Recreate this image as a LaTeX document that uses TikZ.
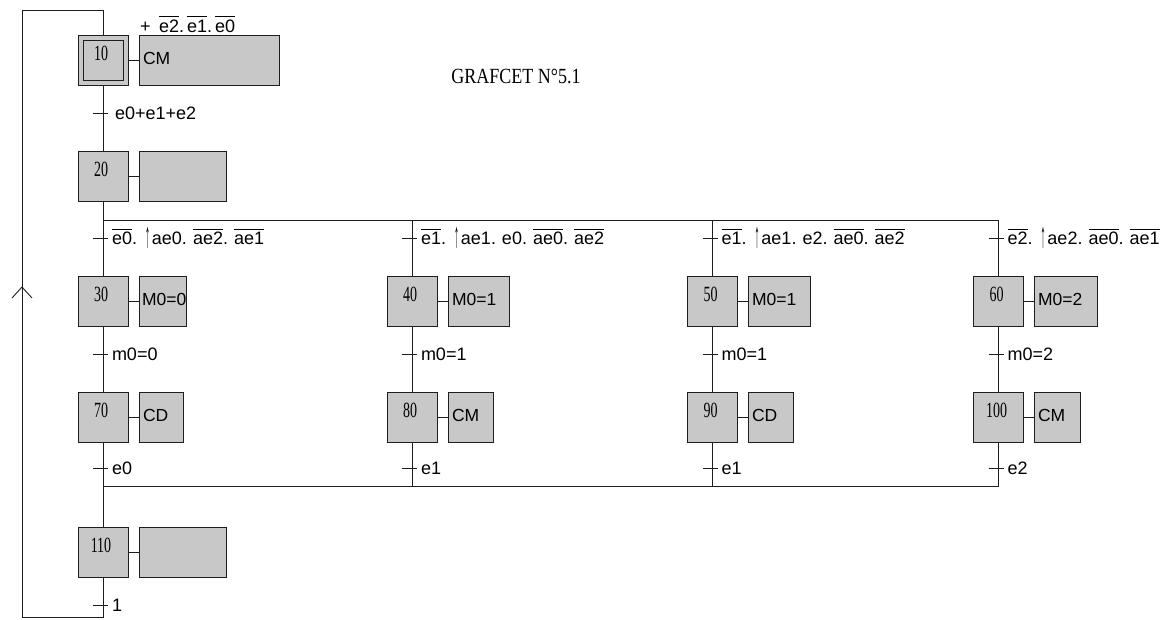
\documentclass[tikz,border=0pt]{standalone}
\usepackage{fontspec}
\newfontfamily\arialf{Liberation Sans}
\newfontfamily\timesf{Liberation Serif}
\definecolor{stepfill}{RGB}{200,200,200}
\definecolor{ln}{RGB}{30,30,30}
\newcommand\ov[1]{\vbox{\hrule height 0.9pt\kern 2.5pt\hbox{#1}}}
\newcommand\upe{\hspace{2pt}\raisebox{-3pt}{\scalebox{0.55}[2.0]{↑}}\hspace{2pt}}
\newcommand\tallnum[1]{\scalebox{1}[1.55]{#1}}
\newcommand\dt{.\hspace{6pt}}
\begin{document}
\begin{tikzpicture}[x=1pt,y=-1pt,
  every node/.style={inner sep=0pt,outer sep=0pt},
  wire/.style={draw=ln,line width=0.9pt},
  stepbox/.style={draw=ln,fill=stepfill,line width=0.9pt,minimum width=50pt,minimum height=50pt},
  innerbox/.style={draw=ln,line width=0.9pt,minimum width=40pt,minimum height=40pt},
  actbox/.style={draw=ln,fill=stepfill,line width=0.9pt,minimum height=50pt,anchor=west},
  num/.style={font=\timesf\fontsize{14}{16}\selectfont},
  acttext/.style={font=\arialf\fontsize{17.5}{20}\selectfont,anchor=base west},
  trtext/.style={font=\arialf\fontsize{18}{20}\selectfont,anchor=base west},
  title/.style={font=\timesf\fontsize{18}{20}\selectfont}]
\useasboundingbox (0,0) rectangle (1170,619);

% steps
\node[stepbox] (s10) at (103,60) {};
\node[innerbox] (s10i) at (s10.center) {};
\node[stepbox] (s20) at (103,176.5) {};
\node[stepbox] (s30) at (103,301) {};
\node[stepbox] (s40) at (412,301) {};
\node[stepbox] (s50) at (712.5,301) {};
\node[stepbox] (s60) at (998.5,301) {};
\node[stepbox] (s70) at (103,417.5) {};
\node[stepbox] (s80) at (412,417.5) {};
\node[stepbox] (s90) at (712.5,417.5) {};
\node[stepbox] (s100) at (998.5,417.5) {};
\node[stepbox] (s110) at (103,552) {};

\foreach \s in {10,20,30,40,50,60,70,80,90,100,110}
  \node[num] (n\s) at ([xshift=-2pt,yshift=7pt]s\s.center) {\tallnum{\s}};

% actions
\node[actbox,minimum width=140pt] (a10) at (139,60) {};
\node[actbox,minimum width=87pt] (a20) at (139,176.5) {};
\node[actbox,minimum width=47pt] (a30) at (139,301) {};
\node[actbox,minimum width=61pt] (a40) at (448,301) {};
\node[actbox,minimum width=62pt] (a50) at (748,301) {};
\node[actbox,minimum width=63pt] (a60) at (1034,301) {};
\node[actbox,minimum width=44pt] (a70) at (139,417.5) {};
\node[actbox,minimum width=45pt] (a80) at (448,417.5) {};
\node[actbox,minimum width=45pt] (a90) at (748,417.5) {};
\node[actbox,minimum width=46pt] (a100) at (1034,417.5) {};
\node[actbox,minimum width=87pt] (a110) at (139,552) {};

\foreach \s in {10,20,30,40,50,60,70,80,90,100,110}
  \draw[wire] (s\s.east) -- (a\s.west);

\node[acttext] (l10) at ([xshift=4pt,yshift=-4pt]a10.west) {CM};
\node[acttext] (l30) at ([xshift=3pt,yshift=-4pt]a30.west) {M0=0};
\node[acttext] (l40) at ([xshift=4pt,yshift=-4pt]a40.west) {M0=1};
\node[acttext] (l50) at ([xshift=4pt,yshift=-4pt]a50.west) {M0=1};
\node[acttext] (l60) at ([xshift=4pt,yshift=-4pt]a60.west) {M0=2};
\node[acttext] (l70) at ([xshift=4pt,yshift=-4pt]a70.west) {CD};
\node[acttext] (l80) at ([xshift=4pt,yshift=-4pt]a80.west) {CM};
\node[acttext] (l90) at ([xshift=4pt,yshift=-4pt]a90.west) {CD};
\node[acttext] (l100) at ([xshift=4pt,yshift=-4pt]a100.west) {CM};

% annotation over step 10 action
\node[trtext] (plus) at (140,32) {+};
\node[trtext] (cond10) at (159,32) {\ov{e2}.\hspace{3pt}\ov{e1}.\hspace{3pt}\ov{e0}};

% title
\node[title] (title) at (516,76) {\scalebox{1}[1.2]{GRAFCET N°5.1}};

% junction coordinates
\coordinate (d1) at (103,220);
\coordinate (d2) at (412,220);
\coordinate (d3) at (712.5,220);
\coordinate (d4) at (998.5,220);
\coordinate (c1) at (103,486);
\coordinate (c2) at (412,486);
\coordinate (c3) at (712.5,486);
\coordinate (c4) at (998.5,486);
\coordinate (lt) at (103,10);
\coordinate (ltl) at (22,10);
\coordinate (lbl) at (22,617);
\coordinate (lb) at (103,617);

% links
\draw[wire] (s10.south) -- (s20.north);
\draw[wire] (s20.south) -- (d1);
\draw[wire] (d1) -- (d4);
\draw[wire] (d1) -- (s30.north);
\draw[wire] (d2) -- (s40.north);
\draw[wire] (d3) -- (s50.north);
\draw[wire] (d4) -- (s60.north);
\draw[wire] (s30.south) -- (s70.north);
\draw[wire] (s40.south) -- (s80.north);
\draw[wire] (s50.south) -- (s90.north);
\draw[wire] (s60.south) -- (s100.north);
\draw[wire] (s70.south) -- (c1);
\draw[wire] (s80.south) -- (c2);
\draw[wire] (s90.south) -- (c3);
\draw[wire] (s100.south) -- (c4);
\draw[wire] (c1) -- (c4);
\draw[wire] (c1) -- (s110.north);
\draw[wire] (s110.south) -- (lb) -- (lbl) -- (ltl) -- (lt) -- (s10.north);
% upward arrow on the return line
\draw[wire] (12,298) -- (22,287) -- (32,298);

% transitions
\coordinate (t1) at (103,113);
\coordinate (tb1) at (103,238);
\coordinate (tb2) at (412,238);
\coordinate (tb3) at (712.5,238);
\coordinate (tb4) at (998.5,238);
\coordinate (tm1) at (103,354);
\coordinate (tm2) at (412,354);
\coordinate (tm3) at (712.5,354);
\coordinate (tm4) at (998.5,354);
\coordinate (te1) at (103,468);
\coordinate (te2) at (412,468);
\coordinate (te3) at (712.5,468);
\coordinate (te4) at (998.5,468);
\coordinate (tf) at (103,605);

\foreach \t in {t1,tb1,tb2,tb3,tb4,tm1,tm2,tm3,tm4,te1,te2,te3,te4,tf}
  \draw[wire] ([xshift=-10pt]\t) -- ([xshift=5pt]\t);

\node[trtext] (r1) at ([xshift=12pt,yshift=-6.5pt]t1) {e0+e1+e2};
\node[trtext] (rb1) at ([xshift=9pt,yshift=-6.5pt]tb1) {\ov{e0}\dt\upe ae0\dt\ov{ae2}\dt\ov{ae1}};
\node[trtext] (rb2) at ([xshift=9pt,yshift=-6.5pt]tb2) {\ov{e1}\dt\upe ae1\dt e0\dt\ov{ae0}\dt\ov{ae2}};
\node[trtext] (rb3) at ([xshift=9pt,yshift=-6.5pt]tb3) {\ov{e1}\dt\upe ae1\dt e2\dt\ov{ae0}\dt\ov{ae2}};
\node[trtext] (rb4) at ([xshift=9pt,yshift=-6.5pt]tb4) {\ov{e2}\dt\upe ae2\dt\ov{ae0}\dt\ov{ae1}};
\node[trtext] (rm1) at ([xshift=9pt,yshift=-6.5pt]tm1) {m0=0};
\node[trtext] (rm2) at ([xshift=9pt,yshift=-6.5pt]tm2) {m0=1};
\node[trtext] (rm3) at ([xshift=9pt,yshift=-6.5pt]tm3) {m0=1};
\node[trtext] (rm4) at ([xshift=9pt,yshift=-6.5pt]tm4) {m0=2};
\node[trtext] (re1) at ([xshift=9pt,yshift=-6.5pt]te1) {e0};
\node[trtext] (re2) at ([xshift=9pt,yshift=-6.5pt]te2) {e1};
\node[trtext] (re3) at ([xshift=9pt,yshift=-6.5pt]te3) {e1};
\node[trtext] (re4) at ([xshift=9pt,yshift=-6.5pt]te4) {e2};
\node[trtext] (rf) at ([xshift=9pt,yshift=-6.5pt]tf) {1};
\end{tikzpicture}
\end{document}
